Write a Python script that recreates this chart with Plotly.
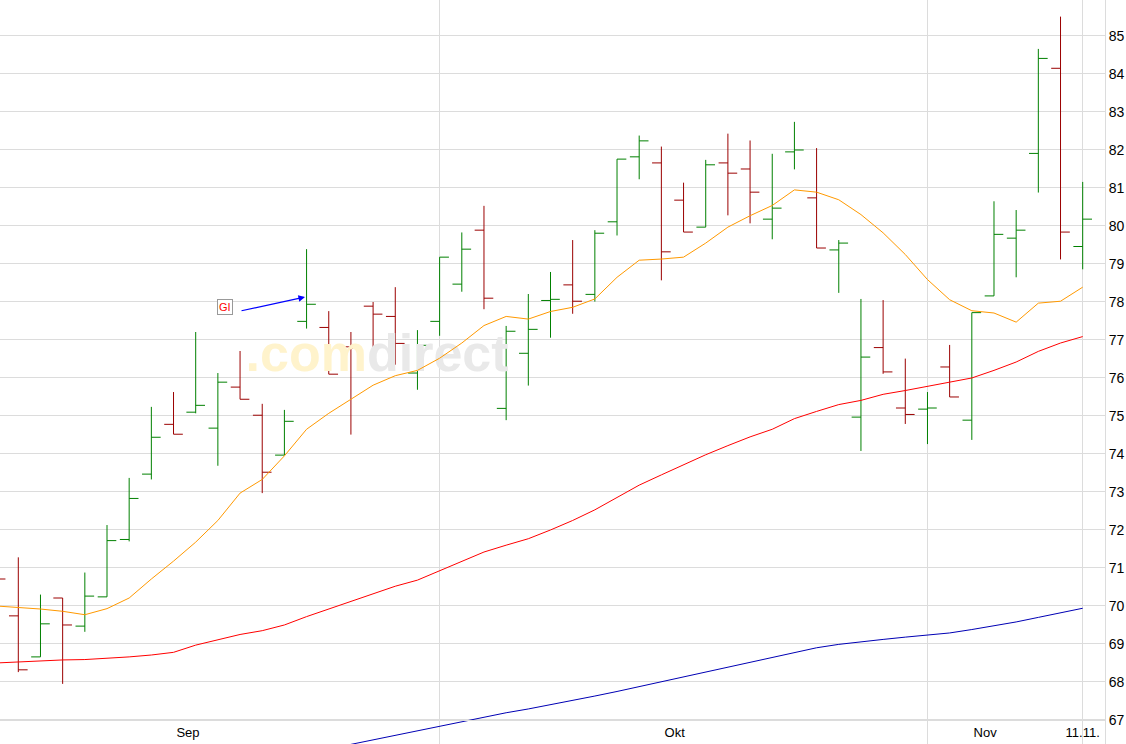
import plotly.graph_objects as go

# ---------------- data ----------------
opens = [71.00, 69.74, 68.66, 70.21, 69.47, 70.24, 71.75, 73.47, 74.78, 75.10,
         74.68, 75.76, 75.02, 73.97, 77.49, 77.33, 76.82, 77.89, 77.62, 76.13,
         77.49, 78.47, 79.89, 75.20, 76.65, 78.04, 78.45, 78.20, 80.11, 81.82,
         81.66, 80.68, 79.97, 81.66, 81.50, 80.18, 81.95, 80.74, 79.37, 74.97,
         76.80, 75.21, 75.18, 76.29, 74.89, 78.16, 79.68, 81.91, 84.15, 79.46]
highs = [71.20, 71.28, 70.30, 70.21, 70.88, 72.13, 73.37, 75.24, 75.63, 77.21,
         76.13, 76.71, 75.32, 75.16, 79.39, 77.76, 77.21, 78.00, 78.39, 77.26,
         79.18, 79.83, 80.53, 77.37, 78.21, 78.79, 79.63, 79.89, 81.76, 82.38,
         82.09, 81.14, 81.74, 82.43, 82.25, 81.90, 82.74, 82.05, 79.63, 78.08,
         78.05, 76.51, 75.63, 76.87, 77.72, 80.65, 80.42, 84.66, 85.51, 81.16]
lows = [70.50, 68.26, 68.66, 67.95, 69.32, 70.24, 71.70, 73.33, 74.52, 75.07,
        73.69, 75.44, 72.97, 73.97, 77.30, 76.10, 74.51, 76.46, 76.35, 75.69,
        77.11, 78.27, 77.81, 74.89, 75.80, 77.06, 77.69, 78.01, 79.75, 81.23,
        78.57, 79.84, 79.97, 80.28, 80.07, 79.65, 81.49, 79.42, 78.24, 74.08,
        76.11, 74.79, 74.26, 75.50, 74.37, 78.16, 78.65, 80.88, 79.12, 78.86]
closes = [70.71, 68.32, 69.53, 69.50, 70.26, 71.72, 72.83, 74.44, 74.52, 75.28,
          75.89, 75.44, 73.52, 74.86, 77.94, 76.10, 76.78, 77.68, 76.91, 76.86,
          79.18, 79.39, 78.10, 77.23, 77.28, 78.07, 78.02, 79.81, 81.76, 82.24,
          79.32, 79.84, 81.61, 81.39, 80.89, 80.47, 82.00, 79.42, 79.55, 76.55,
          76.16, 75.04, 75.21, 75.50, 77.72, 79.78, 79.89, 84.41, 79.84, 80.18]

ma_orange = [70.00, 69.96, 69.92, 69.86, 69.77, 69.93, 70.21, 70.71, 71.18, 71.68,
             72.25, 72.97, 73.33, 73.95, 74.65, 75.07, 75.45, 75.81, 76.06, 76.20,
             76.52, 76.92, 77.38, 77.62, 77.55, 77.75, 77.86, 78.08, 78.65, 79.10,
             79.13, 79.18, 79.55, 79.97, 80.27, 80.54, 80.95, 80.89, 80.69, 80.30,
             79.82, 79.25, 78.59, 78.06, 77.77, 77.71, 77.47, 77.97, 78.02, 78.39]
ma_red = [68.50, 68.53, 68.55, 68.58, 68.59, 68.62, 68.66, 68.71, 68.78, 68.97,
          69.10, 69.25, 69.35, 69.50, 69.72, 69.92, 70.12, 70.33, 70.52, 70.68,
          70.92, 71.17, 71.42, 71.60, 71.77, 72.00, 72.25, 72.53, 72.85, 73.18,
          73.45, 73.72, 73.98, 74.22, 74.45, 74.65, 74.93, 75.12, 75.30, 75.41,
          75.57, 75.67, 75.78, 75.88, 76.00, 76.20, 76.42, 76.70, 76.92, 77.09]
ma_blue = [None, None, None, None, None, None, None, None, None, None,
           None, None, None, None, 66.12, 66.24, 66.36, 66.48, 66.60, 66.72,
           66.84, 66.96, 67.08, 67.19, 67.29, 67.40, 67.52, 67.63, 67.75, 67.88,
           68.01, 68.13, 68.26, 68.39, 68.52, 68.65, 68.78, 68.90, 68.99, 69.06,
           69.12, 69.18, 69.23, 69.29, 69.38, 69.47, 69.58, 69.70, 69.82, 69.94]

x_tick_labels = ["Sep", "Okt", "Nov", "11.11."]
x_tick_pos = [8.65, 30.6, 44.6, 49.0]
x_grid_pos = [20.0, 42.0, 49.0]
y_tick_vals = list(range(67, 86))

signal_text = "GI"
signal_bar = 14
signal_price = 78.13
watermark_pos = (17.18, 76.53)

# ---------------- styles ----------------
GREEN = "#008000"
DARKRED = "#9b0000"
GRID = "#dcdcdc"
FONT = "Liberation Sans Narrow, Arial Narrow, Liberation Sans, Arial, sans-serif"

idx = list(range(len(opens)))

fig = go.Figure()

# faint watermark behind everything
fig.add_trace(go.Scatter(
    x=[watermark_pos[0]], y=[watermark_pos[1]], mode="text",
    text=['<b><span style="color:#fff3cc">.com</span>'
          '<span style="color:#e9e9e9">direct</span></b>'],
    textfont=dict(size=52, family="Liberation Sans, Arial, sans-serif"),
    hoverinfo="skip", showlegend=False))

fig.add_trace(go.Ohlc(
    x=idx, open=opens, high=highs, low=lows, close=closes,
    increasing=dict(line=dict(color=GREEN, width=1)),
    decreasing=dict(line=dict(color=DARKRED, width=1)),
    tickwidth=0.42, showlegend=False))

fig.add_trace(go.Scatter(x=idx, y=ma_blue, mode="lines",
                         line=dict(color="#0000b4", width=1), showlegend=False))
fig.add_trace(go.Scatter(x=idx, y=ma_red, mode="lines",
                         line=dict(color="#ff0000", width=1), showlegend=False))
fig.add_trace(go.Scatter(x=idx, y=ma_orange, mode="lines",
                         line=dict(color="#ff9900", width=1), showlegend=False))

# signal marker "GI" with arrow
fig.add_annotation(x=signal_bar - 0.07, y=signal_price, xref="x", yref="y",
                   text="", showarrow=True, ax=-65, ay=14,
                   arrowcolor="#0000ff", arrowwidth=1.2, arrowhead=2, arrowsize=1.1)
fig.add_annotation(x=signal_bar - 3.68, y=signal_price - 0.25, xref="x", yref="y",
                   text=signal_text, showarrow=False,
                   font=dict(color="#ff0000", size=11, family="Liberation Sans, Arial"),
                   bordercolor="#999999", borderwidth=1, borderpad=1, bgcolor="#ffffff")

fig.update_layout(
    width=1126, height=744,
    margin=dict(l=0, r=21, t=0, b=0),
    paper_bgcolor="#ffffff", plot_bgcolor="#ffffff",
    showlegend=False,
    font=dict(family=FONT, size=13, color="#000000"),
    xaxis=dict(
        range=[0.1747, 50.006],
        tickmode="array", tickvals=x_tick_pos, ticktext=x_tick_labels,
        showgrid=False, zeroline=False, ticks="",
        minor=dict(tickmode="array", tickvals=x_grid_pos, showgrid=True,
                   gridcolor=GRID, gridwidth=1, ticks=""),
        anchor="free", position=24 / 744,
        showline=True, linecolor=GRID, linewidth=1,
        rangeslider=dict(visible=False),
        tickfont=dict(family=FONT, size=13, color="#000000"),
        automargin=False,
    ),
    yaxis=dict(
        range=[66.368, 85.947], side="right",
        tickmode="array", tickvals=y_tick_vals,
        showgrid=True, gridcolor=GRID, gridwidth=1, zeroline=False,
        showline=True, linecolor=GRID, linewidth=1, ticks="",
        tickfont=dict(family=FONT, size=14, color="#000000"),
        automargin=False,
    ),
)

fig.write_html("out.html", config={"displayModeBar": False},
               post_script="document.body.style.margin='0px';document.body.style.overflow='hidden';")
